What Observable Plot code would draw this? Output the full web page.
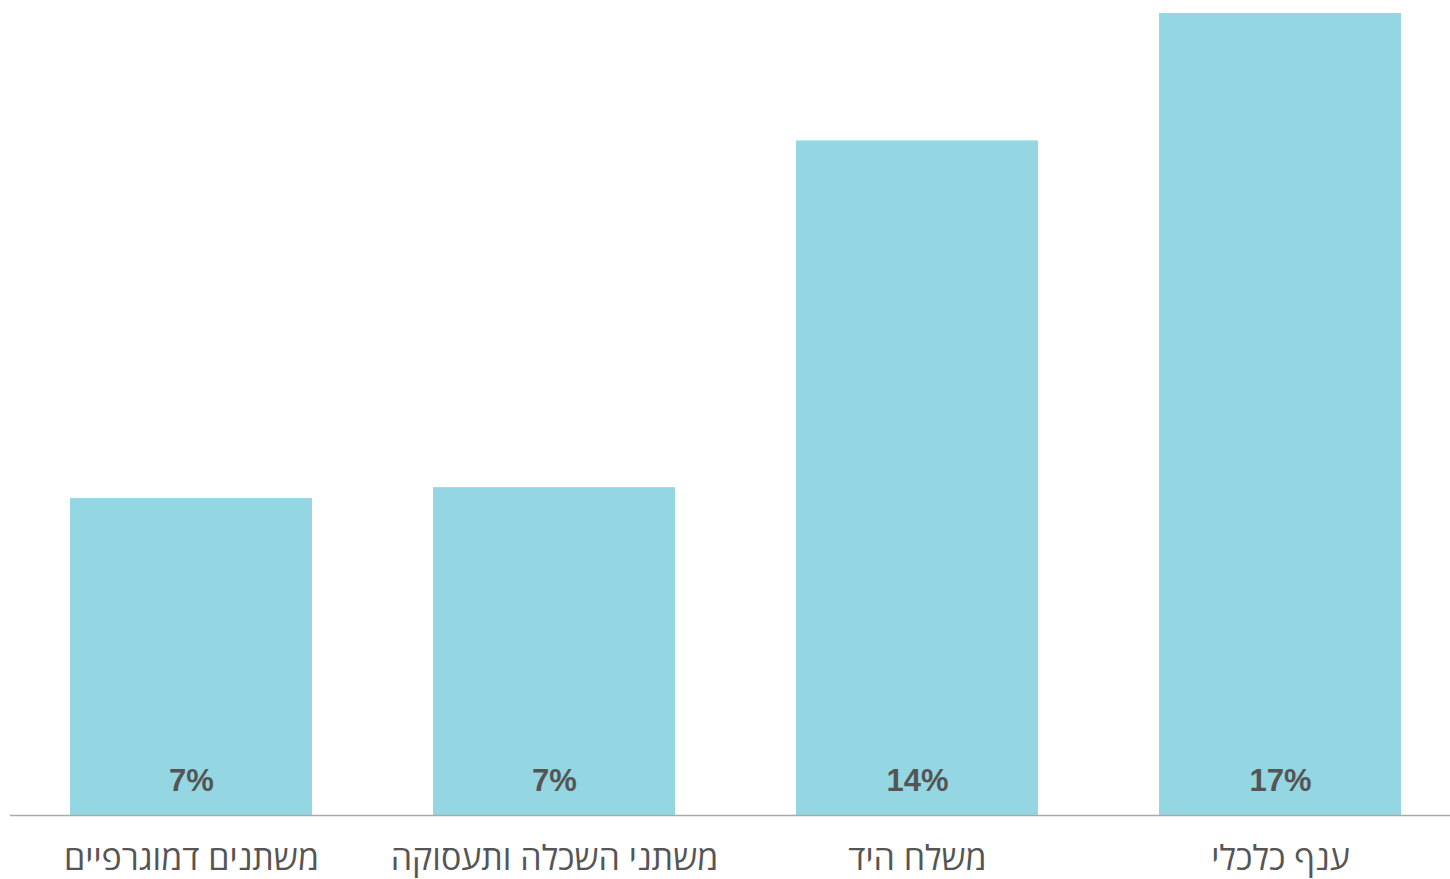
<!DOCTYPE html>
<html>
<head>
<meta charset="utf-8">
<script src="https://cdn.jsdelivr.net/npm/d3@7"></script>
<script src="https://cdn.jsdelivr.net/npm/@observablehq/plot@0.6"></script>
<style>
  html, body { margin: 0; padding: 0; background: #fff; }
  #chart svg { display: block; }
</style>
</head>
<body>
<div id="chart"></div>
<script>
const categories = ["משתנים דמוגרפיים", "משתני השכלה ותעסוקה", "משלח היד", "ענף כלכלי"];
const values = [6.72, 6.95, 14.3, 17.0];
const labels = ["7%", "7%", "14%", "17%"];

const data = categories.map((c, i) => ({category: c, value: values[i], label: labels[i]}));

const chart = Plot.plot({
  width: 1450,
  height: 879,
  marginTop: 13,
  marginBottom: 64,
  marginLeft: 10,
  marginRight: 0,
  style: {background: "#fff"},
  x: {domain: categories, range: [9, 1462], paddingInner: 0.334, paddingOuter: 0.167, label: null},
  y: {domain: [0, 17.0], axis: null},
  marks: [
    Plot.barY(data, {x: "category", y: "value", fill: "#94D6E2"}),
    Plot.ruleY([0], {stroke: "#aaaaaa", strokeWidth: 1.5}),
    Plot.text(data, {x: "category", y: 0, text: "label", dy: -34, fill: "#555555",
      fontFamily: "Liberation Sans, Arial, sans-serif", fontWeight: "bold", fontSize: 31, letterSpacing: 3}),
    Plot.axisX({tickSize: 0, tickPadding: 30, fontSize: 34, color: "#555555",
      fontFamily: "Open Sans, sans-serif", label: null})
  ]
});
document.getElementById("chart").appendChild(chart);
</script>
</body>
</html>
